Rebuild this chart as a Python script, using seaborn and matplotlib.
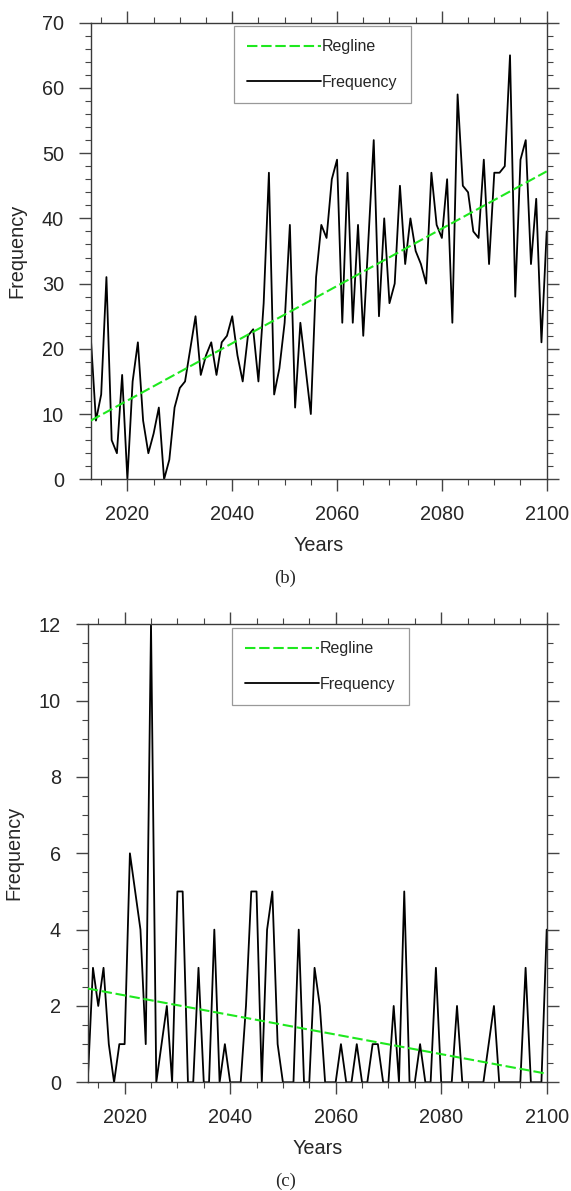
import numpy as np
import pandas as pd
import matplotlib
matplotlib.use('Agg')
import matplotlib.pyplot as plt
import seaborn as sns
from matplotlib.ticker import MultipleLocator

# ---------------- data ----------------
years = list(range(2013, 2101))

freq_b = [22, 9, 13, 31, 6, 4, 16,
          0, 15, 21, 9, 4, 7, 11, 0, 3, 11,
          14, 15, 20, 25, 16, 19, 21, 16, 21, 22,
          25, 19, 15, 22, 23, 15, 27, 47, 13, 17,
          24, 39, 11, 24, 17, 10, 31, 39, 37, 46,
          49, 24, 47, 24, 39, 22, 37, 52, 25, 40,
          27, 30, 45, 33, 40, 35, 33, 30, 47, 39,
          37, 46, 24, 59, 45, 44, 38, 37, 49, 33,
          47, 47, 48, 65, 28, 49, 52, 33, 43, 21, 38]

freq_c = [0, 3, 2, 3, 1, 0, 1,
          1, 6, 5, 4, 1, 12, 0, 1, 2, 0,
          5, 5, 0, 0, 3, 0, 0, 4, 0, 1,
          0, 0, 0, 2, 5, 5, 0, 4, 5, 1,
          0, 0, 0, 4, 0, 0, 3, 2, 0, 0,
          0, 1, 0, 0, 1, 0, 0, 1, 1, 0,
          0, 2, 0, 5, 0, 0, 1, 0, 0, 3,
          0, 0, 0, 2, 0, 0, 0, 0, 0, 1,
          2, 0, 0, 0, 0, 0, 3, 0, 0, 0, 4]

captions = ['(b)', '(c)']
x_label = 'Years'
y_label = 'Frequency'
legend_labels = ['Regline', 'Frequency']

# ---------------- style ----------------
sns.set_style('ticks')
plt.rcParams['font.family'] = ['Liberation Sans', 'DejaVu Sans']

W, H = 571, 1191
fig = plt.figure(figsize=(W / 100, H / 100), dpi=100)


def add_ax(l, r, t, b):
    return fig.add_axes([l / W, 1 - b / H, (r - l) / W, (b - t) / H])


ax1 = add_ax(90.7, 546.7, 22.7, 479.3)
ax2 = add_ax(87.7, 546.7, 624.3, 1082.3)

green = '#1ee81e'
spine_col = '#3a3a3a'


def panel(ax, vals, ymax, ymajor, yminor, legend_anchor):
    df = pd.DataFrame({x_label: years, y_label: vals})
    sns.lineplot(data=df, x=x_label, y=y_label, ax=ax, color='black',
                 lw=1.3, label=legend_labels[1], zorder=2)
    sns.regplot(data=df, x=x_label, y=y_label, ax=ax, scatter=False, ci=None,
                truncate=True, color=green, label=legend_labels[0],
                line_kws=dict(lw=1.5, ls=(0, (5.0, 1.8)), zorder=3))
    ax.set_xlim(2013, 2100)
    ax.set_ylim(0, ymax)
    ax.xaxis.set_major_locator(MultipleLocator(20))
    ax.xaxis.set_minor_locator(MultipleLocator(5))
    ax.yaxis.set_major_locator(MultipleLocator(ymajor))
    ax.yaxis.set_minor_locator(MultipleLocator(yminor))
    ax.tick_params(which='both', direction='out', top=True, right=True,
                   labeltop=False, labelright=False, color='#444444')
    ax.tick_params(which='major', length=8.3, width=1.0, labelsize=14.3)
    ax.tick_params(axis='x', which='major', pad=10)
    ax.tick_params(axis='y', which='major', pad=11)
    ax.tick_params(which='minor', length=4.2, width=0.8)
    for s in ax.spines.values():
        s.set_visible(True)
        s.set_color(spine_col)
        s.set_linewidth(1.0)
    ax.set_xlabel(x_label, fontsize=14.3, labelpad=9)
    ax.set_ylabel(y_label, fontsize=14.3, labelpad=11)

    handles, labels = ax.get_legend_handles_labels()
    hmap = dict(zip(labels, handles))
    leg = ax.legend([hmap[l] for l in legend_labels], legend_labels,
                    loc='upper left', bbox_to_anchor=legend_anchor,
                    borderaxespad=0, frameon=True, fancybox=False,
                    edgecolor='#999999', framealpha=1, fontsize=11.5,
                    handlelength=4.6, handletextpad=0.1, handleheight=0.7,
                    labelspacing=1.28, borderpad=0.84)
    leg.get_frame().set_linewidth(0.9)


panel(ax1, freq_b, 70, 10, 2, (0.3136, 0.9934))
panel(ax2, freq_c, 12, 2, 0.5, (0.3137, 0.9926))

fig.text(285.5 / W, 1 - 578 / H, captions[0], ha='center', va='center',
         family=['Liberation Serif', 'DejaVu Serif'], fontsize=13.5)
fig.text(285.5 / W, 1 - 1181 / H, captions[1], ha='center', va='center',
         family=['Liberation Serif', 'DejaVu Serif'], fontsize=13.5)

fig.savefig('out.png', dpi=100)
